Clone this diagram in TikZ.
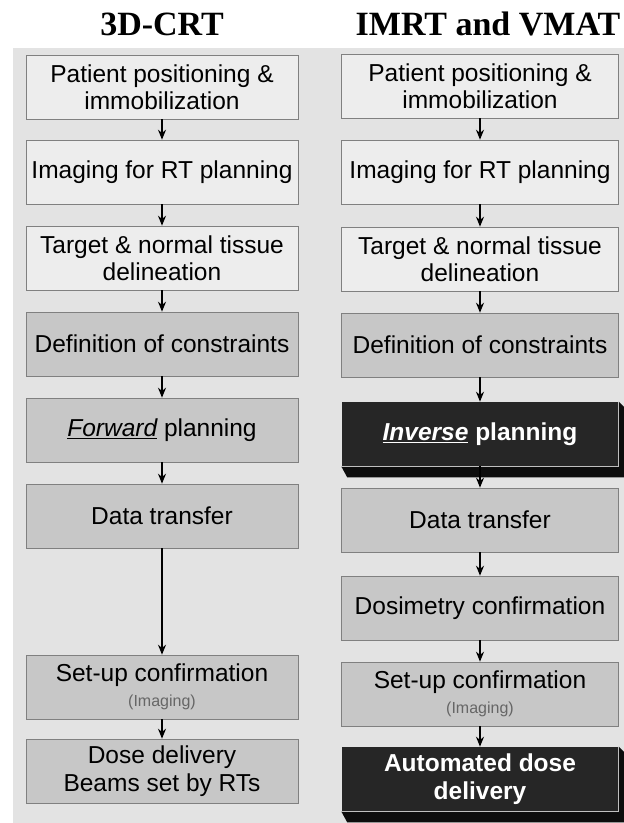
\documentclass[tikz,border=0pt]{standalone}
\usepackage{fontspec}
\setmainfont{Liberation Sans}
\newfontfamily\headfont{Liberation Serif}
\usetikzlibrary{arrows.meta}

\begin{document}
\begin{tikzpicture}[x=1pt, y=-1pt,
  stepbox/.style={draw=\flowBorderColor, line width=0.6pt, inner sep=0pt,
    minimum height=64pt, align=center,
    font=\fontsize{24.5}{27.5}\selectfont},
  lightbox/.style={stepbox, fill=\flowLightColor},
  midbox/.style={stepbox, fill=\flowMidColor},
  darkbox/.style={stepbox, draw=none, fill=\flowDarkColor, text=white,
    font=\fontsize{24.5}{27.5}\selectfont\bfseries},
  leftcol/.style={minimum width=272pt},
  rightcol/.style={minimum width=277pt},
  flow/.style={draw=black, line width=1.3pt, -{Stealth[length=10pt,width=8pt]}},
  title/.style={font=\headfont\fontsize{34}{36}\selectfont\bfseries}]
\providecommand{\flowPageColor}{black!11}
\providecommand{\flowLightColor}{black!7}
\providecommand{\flowMidColor}{black!22}
\providecommand{\flowDarkColor}{black!85}
\providecommand{\flowBevelColor}{black!95}
\providecommand{\flowBorderColor}{black!50}
\useasboundingbox (0,0) rectangle (624,823);
% Page
\fill[white] (0,0) rectangle (624,823);
\fill[\flowPageColor] (13,48) rectangle (624,823);
% Headings
\node[title] (hl) at (162,24) {3D-CRT};
\node[title] (hr) at (488,24) {IMRT and VMAT};
% Left column
\node[lightbox, leftcol] (l1) at (162,87) {Patient positioning \&\\ immobilization};
\node[lightbox, leftcol] (l2) at (162,172) {Imaging for RT planning};
\node[lightbox, leftcol] (l3) at (162,258) {Target \& normal tissue\\ delineation};
\node[midbox, leftcol] (l4) at (162,344) {Definition of constraints};
\node[midbox, leftcol] (l5) at (162,430) {\underline{\itshape Forward} planning};
\node[midbox, leftcol] (l6) at (162,516) {Data transfer};
\node[midbox, leftcol] (l7) at (162,687) {Set-up confirmation\\[-2pt]
  {\fontsize{16}{18}\selectfont\color{black!60}(Imaging)}};
\node[midbox, leftcol] (l8) at (162,771) {Dose delivery\\ Beams set by RTs};
% Right column
\node[lightbox, rightcol] (r1) at (480,86) {Patient positioning \&\\ immobilization};
\node[lightbox, rightcol] (r2) at (480,172) {Imaging for RT planning};
\node[lightbox, rightcol] (r3) at (480,259) {Target \& normal tissue\\ delineation};
\node[midbox, rightcol] (r4) at (480,345) {Definition of constraints};
\node[darkbox, rightcol] (r5) at (480,434) {\underline{\itshape Inverse} planning};
\node[midbox, rightcol] (r6) at (480,520) {Data transfer};
\node[midbox, rightcol] (r7) at (480,608) {Dosimetry confirmation};
\node[midbox, rightcol] (r8) at (480,694) {Set-up confirmation\\[-2pt]
  {\fontsize{16}{18}\selectfont\color{black!60}(Imaging)}};
\node[darkbox, rightcol] (r9) at (480,779) {Automated dose\\ delivery};
% Bevels under the dark boxes
\foreach \b in {r5,r9} {
  \fill[\flowBevelColor] (\b.south west) -- (\b.south east) -- (\b.north east)
    -- ([xshift=5pt,yshift=-5pt]\b.north east)
    -- ([xshift=5pt,yshift=-11pt]\b.south east)
    -- ([xshift=6pt,yshift=-11pt]\b.south west) -- cycle;
  \draw[black!25, line width=1pt] (\b.south west) -- (\b.south east) -- (\b.north east);
}
% Arrows
\foreach \a/\b in {l1/l2,l2/l3,l3/l4,l4/l5,l5/l6,l6/l7,l7/l8,
                   r1/r2,r2/r3,r3/r4,r4/r5,r5/r6,r6/r7,r7/r8,r8/r9}
  \draw[flow] (\a.south) -- (\b.north);
\end{tikzpicture}
\end{document}
